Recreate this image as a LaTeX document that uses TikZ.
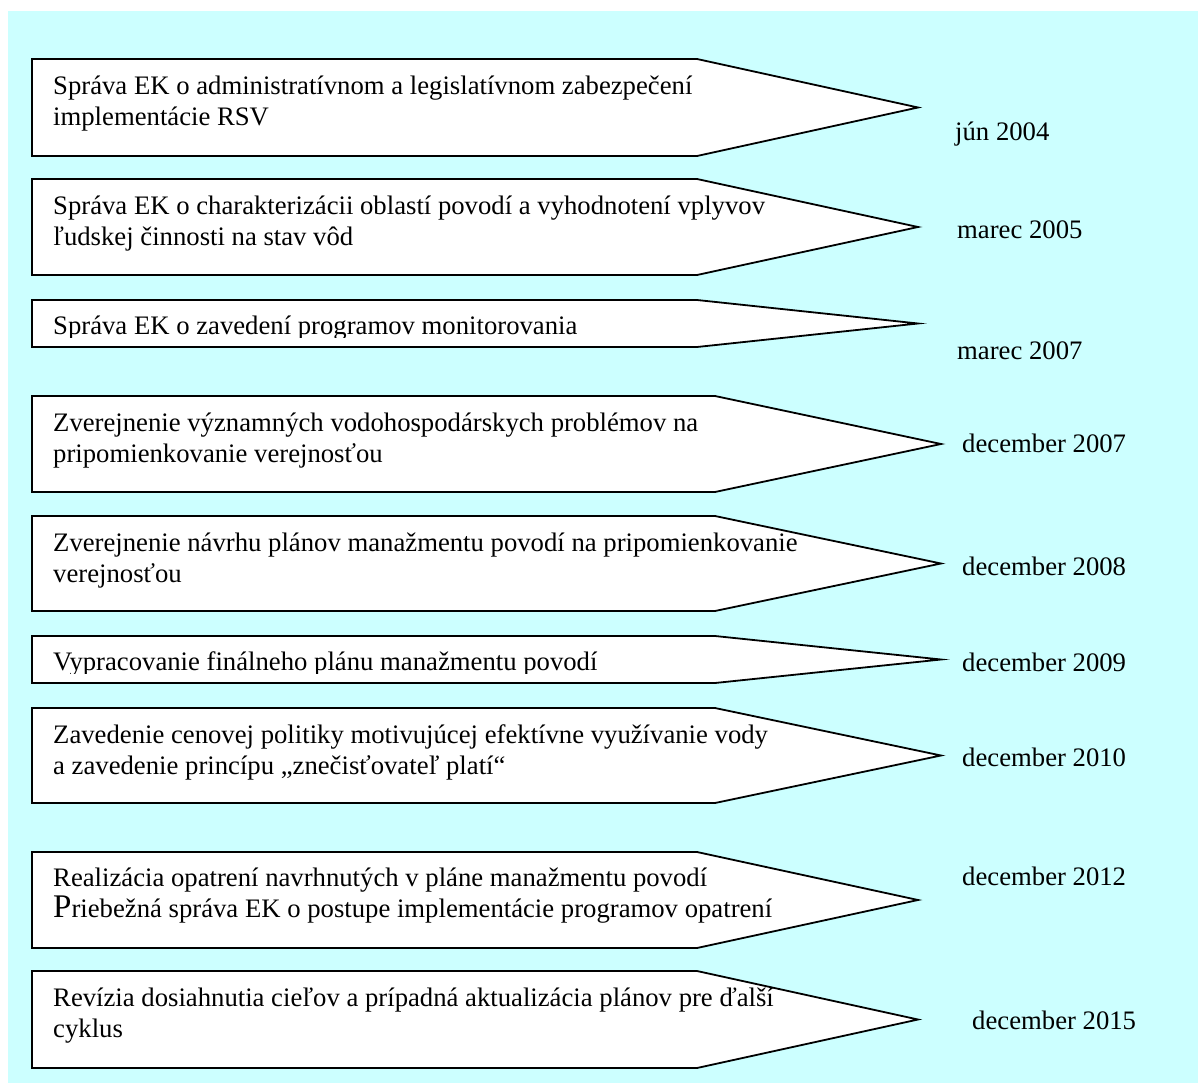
\documentclass[tikz,border=0pt]{standalone}
\usepackage{fontspec}
\setmainfont{Liberation Serif}
\definecolor{bgcyan}{RGB}{204,255,255}
\newcommand\tlarrow[4]{% top, bottom, flat end, tip
  \draw[arrowshape] (32,#1) -- (#3,#1) -- (#4,{(#1+#2)/2}) -- (#3,#2) -- (32,#2) -- cycle;}
\begin{document}
\begin{tikzpicture}[x=1pt,y=-1pt,
  arrowshape/.style={draw=black, fill=white, line width=1.8pt, line join=miter},
  boxtext/.style={anchor=north west, inner sep=0pt, align=left, font=\fontsize{26.7}{31}\selectfont},
  datetext/.style={anchor=base west, inner sep=0pt, font=\fontsize{26.7}{31}\selectfont}]
\useasboundingbox (0,0) rectangle (1198,1083);
\fill[bgcyan] (8,11) rectangle (1198,1083);

% arrows
\tlarrow{59}{156}{697}{918}
\tlarrow{179}{275}{697}{918}
\tlarrow{300}{347}{697}{918}
\tlarrow{396}{492}{715}{941}
\tlarrow{516}{611}{715}{941}
\tlarrow{636}{683}{715}{941}
\tlarrow{708}{803}{715}{941}
\tlarrow{852}{948}{697}{918}
\tlarrow{971}{1068}{697}{918}

% texts
\node[boxtext] (t1) at (53,72) {\rule{0pt}{22pt}Správa EK o administratívnom a legislatívnom zabezpečení\\implementácie RSV};
\node[boxtext] (t2) at (53,192) {\rule{0pt}{22pt}Správa EK o charakterizácii oblastí povodí a vyhodnotení vplyvov\\ľudskej činnosti na stav vôd};
\begin{scope}
\clip (32,300) rectangle (918,337);
\node[boxtext] (t3) at (53,312) {\rule{0pt}{22pt}Správa EK o zavedení programov monitorovania};
\end{scope}
\node[boxtext] (t4) at (53,409) {\rule{0pt}{22pt}Zverejnenie významných vodohospodárskych problémov na\\pripomienkovanie verejnosťou};
\node[boxtext] (t5) at (53,529) {\rule{0pt}{22pt}Zverejnenie návrhu plánov manažmentu povodí na pripomienkovanie\\verejnosťou};
\begin{scope}
\clip (32,636) rectangle (941,673);
\node[boxtext] (t6) at (53,648) {\rule{0pt}{22pt}Vypracovanie finálneho plánu manažmentu povodí};
\end{scope}
\node[boxtext] (t7) at (53,721) {\rule{0pt}{22pt}Zavedenie cenovej politiky motivujúcej efektívne využívanie vody\\a zavedenie princípu „znečisťovateľ platí“};
\node[boxtext] (t8) at (53,864) {\rule{0pt}{22pt}Realizácia opatrení navrhnutých v pláne manažmentu povodí\\{\fontsize{33}{31}\selectfont P}riebežná správa EK o postupe implementácie programov opatrení};
\node[boxtext] (t9) at (53,984) {\rule{0pt}{22pt}Revízia dosiahnutia cieľov a prípadná aktualizácia plánov pre ďalší\\cyklus};

% dates
\node[datetext] (d1) at (955,141) {jún 2004};
\node[datetext] (d2) at (957,239) {marec 2005};
\node[datetext] (d3) at (957,359) {marec 2007};
\node[datetext] (d4) at (962,452) {december 2007};
\node[datetext] (d5) at (962,575) {december 2008};
\node[datetext] (d6) at (962,671) {december 2009};
\node[datetext] (d7) at (962,766) {december 2010};
\node[datetext] (d8) at (962,885) {december 2012};
\node[datetext] (d9) at (972,1029) {december 2015};
\end{tikzpicture}
\end{document}
